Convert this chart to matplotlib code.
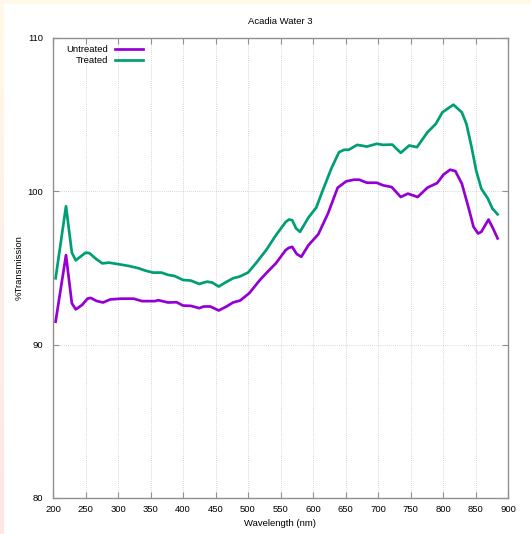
import numpy as np
import matplotlib
matplotlib.use("Agg")
import matplotlib.pyplot as plt
from matplotlib.patches import Rectangle

plt.rcParams['font.family'] = ['Liberation Sans', 'DejaVu Sans']

# ---------------- data ---------------- #
untreated_x = [204, 220, 229, 235, 245, 253, 258, 267, 277, 288, 305, 324, 337,
               357, 362, 377, 390, 400, 412, 425, 432, 442, 455, 467, 477, 488,
               502, 518, 530, 543, 558, 563, 568, 575, 582, 593, 608, 623, 638,
               651, 663, 671, 683, 698, 708, 721, 735, 746, 761, 776, 791, 801,
               811, 819, 829, 839, 847, 854, 859, 870, 877, 884]
untreated_y = [91.5, 95.84, 92.7, 92.3, 92.6, 93.0, 93.05, 92.85, 92.75, 92.95,
               93.0, 93.0, 92.84, 92.84, 92.9, 92.75, 92.77, 92.55, 92.53, 92.38,
               92.49, 92.49, 92.23, 92.49, 92.75, 92.88, 93.36, 94.2, 94.75, 95.31,
               96.17, 96.32, 96.38, 95.91, 95.73, 96.49, 97.19, 98.55, 100.24,
               100.65, 100.76, 100.76, 100.56, 100.56, 100.39, 100.28, 99.63,
               99.85, 99.63, 100.24, 100.54, 101.1, 101.41, 101.32, 100.5, 98.98,
               97.68, 97.25, 97.36, 98.16, 97.58, 96.93]

treated_x = [204, 220, 229, 235, 241, 250, 256, 266, 276, 286, 302, 317, 332,
             342, 354, 367, 377, 387, 400, 412, 425, 437, 445, 455, 465, 477,
             487, 500, 512, 528, 543, 558, 563, 568, 574, 580, 593, 605, 615,
             628, 640, 648, 655, 668, 683, 698, 708, 722, 735, 748, 760, 776,
             789, 799, 816, 829, 836, 844, 851, 859, 869, 876, 884]
treated_y = [94.33, 99.03, 96.0, 95.5, 95.7, 96.0, 95.97, 95.6, 95.3, 95.35,
             95.24, 95.13, 94.98, 94.83, 94.7, 94.7, 94.55, 94.48, 94.22, 94.18,
             93.96, 94.11, 94.05, 93.79, 94.05, 94.33, 94.44, 94.7, 95.3, 96.17,
             97.14, 98.0, 98.16, 98.12, 97.58, 97.36, 98.29, 98.94, 100.06,
             101.47, 102.55, 102.71, 102.71, 103.03, 102.92, 103.1, 103.03,
             103.05, 102.51, 102.99, 102.88, 103.85, 104.4, 105.15, 105.65,
             105.15, 104.4, 102.88, 101.36, 100.17, 99.53, 98.88, 98.5]

series_labels = ["Untreated", "Treated"]
series_colors = ["#9400d3", "#009e73"]

x_ticks = np.arange(200, 901, 50)
y_ticks = [80, 90, 100, 110]

# ---------------- figure ---------------- #
W, H = 531, 534
fig = plt.figure(figsize=(W / 100, H / 100), dpi=100)
fig.patch.set_facecolor("#fff9e8")
fig.patches.append(Rectangle((4 / W, 0), 1 - 4 / W, 1 - 4 / H, transform=fig.transFigure,
                             facecolor="white", edgecolor="none", zorder=-10))
# faint left strip going from cream to pink
strip = fig.add_axes([0, 0, 4 / W, 1 - 4 / H])
grad = np.linspace(0, 1, 100).reshape(-1, 1)
cmap = matplotlib.colors.LinearSegmentedColormap.from_list("s", ["#fde6e4", "#fff9e8"])
strip.imshow(grad, aspect="auto", cmap=cmap, origin="lower")
strip.set_axis_off()

ax = fig.add_axes([53 / W, (H - 498) / H, 455 / W, 460 / H])
ax.plot(untreated_x, untreated_y, color=series_colors[0], lw=1.95,
        solid_joinstyle="round", label=series_labels[0])
ax.plot(treated_x, treated_y, color=series_colors[1], lw=1.95,
        solid_joinstyle="round", label=series_labels[1])

ax.set_xlim(200, 900)
ax.set_ylim(80, 110)
ax.set_xticks(x_ticks)
ax.set_yticks(y_ticks)
ax.grid(True, color="#c8c8c8", linestyle=(0, (1, 1.5)), linewidth=0.6)
ax.tick_params(direction="in", length=4, width=0.8, color="#909090",
               labelsize=6.8, top=True, right=True)
ax.tick_params(axis="x", pad=5)
ax.tick_params(axis="y", pad=7)
for s in ax.spines.values():
    s.set_color("#909090")
    s.set_linewidth(1.0)

ax.set_title("Acadia Water 3", fontsize=6.8, pad=10)
ax.set_xlabel("Wavelength (nm)", fontsize=6.8, labelpad=4)
ax.set_ylabel("%Transmission", fontsize=6.8, labelpad=2.5)

ax.legend(loc="upper left", bbox_to_anchor=(0.0286, 0.985), frameon=False,
          markerfirst=False, fontsize=6.8, handlelength=2.9, handletextpad=0.8,
          labelspacing=0.25, borderpad=0, borderaxespad=0)

fig.savefig("out.png", dpi=100, facecolor=fig.get_facecolor())
